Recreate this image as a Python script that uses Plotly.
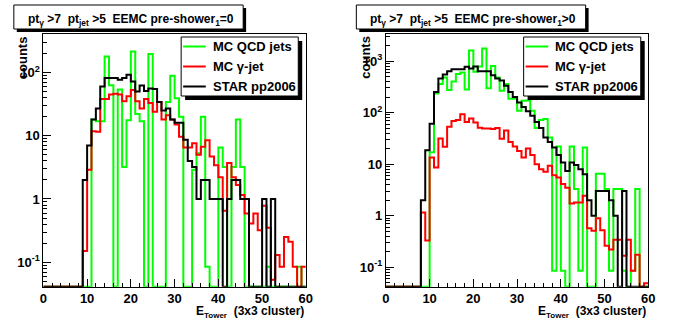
import plotly.graph_objects as go

W, H = 696, 322

# ---------------- data (60 bins of 1 unit from 0 to 60) ----------------
bin_edges = list(range(0, 61))

# Left panel: pre-shower_1 = 0
qcd_l = [0, 0, 0, 0, 0, 0, 0, 0, 0, 0,
         0, 18, 17, 17, 178, 63, 0, 54, 3.2, 17.5,
         215, 22, 17, 0, 196, 0, 0, 0, 34, 89,
         39, 20, 0, 0, 2.9, 5.3, 20, 0.085, 0, 0,
         6.5, 3.2, 0, 3.2, 18, 3.2, 0, 0, 0, 0,
         0, 0.085, 0, 0, 0, 0, 0, 0, 0.085, 0]
gam_l = [0, 0, 0, 0, 0, 0, 0, 0, 0, 0.15,
         2.9, 11.8, 11.5, 38, 38, 45, 46, 45, 35, 42,
         53, 35, 27, 38, 33, 24, 34, 18, 21, 18,
         15, 9.6, 6.5, 6.5, 7.6, 5, 6.7, 8.5, 4.7, 3.4,
         2.2, 0.65, 3.7, 2.2, 1.66, 1.16, 0.59, 0.41, 0.59, 0.32,
         0.78, 0.35, 0.053, 0.13, 0.085, 0.25, 0.21, 0.085, 0, 0.085]
star_l = [0, 0, 0, 0, 0, 0, 0, 0, 0, 2,
          7, 18, 27, 60, 82, 82, 82, 77, 82, 92,
          72, 50, 62, 51, 56, 55, 34, 25, 27, 18,
          16, 16, 8.6, 4, 3.2, 1, 2, 2, 1, 1,
          1, 0, 1, 2, 2, 1, 1, 0, 0, 0,
          1, 0, 1, 0, 0, 0, 0, 0, 0, 0]

# Right panel: pre-shower_1 > 0
qcd_r = [0, 0, 0, 0, 0, 0, 0, 0, 0, 0,
         17, 235, 357, 480, 274, 400, 560, 600, 280, 1600,
         620, 780, 1750, 295, 800, 480, 265, 360, 185, 185,
         108, 170, 172, 108, 50, 72, 75, 33, 0.086, 22,
         0.086, 0, 22, 3.3, 0.086, 21, 0, 0, 6.5, 6.5,
         3.3, 0.086, 3.3, 3.3, 0.086, 0, 0.086, 3.3, 0, 0]
gam_r = [0, 0, 0, 0, 0, 0, 0, 0, 1.16, 0.33,
         13.5, 8.6, 31.4, 21.8, 53, 69, 72, 93, 66, 77,
         64, 51, 49, 49, 48, 50, 31, 45, 27, 22,
         18, 13.5, 20, 15, 10, 8, 7.1, 9.3, 6.1, 5.5,
         4.1, 3.5, 1.73, 1.8, 1.8, 2.44, 0.57, 0.51, 0.89, 0.52,
         0.26, 0.22, 0.34, 0.34, 0.168, 0.34, 0.086, 0.175, 0, 0.049]
star_r = [0, 0, 0, 0, 0, 0, 0, 0, 2, 18.6,
          61, 250, 457, 550, 630, 690, 690, 690, 770, 712,
          780, 630, 630, 630, 530, 460, 420, 330, 250, 200,
          157, 128, 106, 87, 66, 50, 33, 27, 21, 15,
          10.8, 7.4, 10.8, 9.6, 8, 6.4, 2, 1, 3, 3,
          3, 2, 1, 0, 3, 0, 0, 0, 0, 0]

series_names = ["MC QCD jets", "MC \u03b3-jet", "STAR pp2006"]
series_colors = ["#00ff00", "#ff0000", "#000000"]

x_tick_vals = [0, 10, 20, 30, 40, 50, 60]
y_tick_vals_l = [0.1, 1, 10, 100]
y_tick_text_l = ["10<sup>-1</sup>", "1", "10", "10<sup>2</sup>"]
y_tick_vals_r = [0.1, 1, 10, 100, 1000]
y_tick_text_r = ["10<sup>-1</sup>", "1", "10", "10<sup>2</sup>", "10<sup>3</sup>"]

titles = ["pt<sub>\u03b3</sub> >7  pt<sub>jet</sub> >5  EEMC pre-shower<sub>1</sub>=0",
          "pt<sub>\u03b3</sub> >7  pt<sub>jet</sub> >5  EEMC pre-shower<sub>1</sub>>0"]
x_title = "E<sub><span style=\"font-size:8px\">Tower</span></sub>  (3x3 cluster)"
y_title = "counts"

# ---------------- layout geometry (pixels) ----------------
FAM = "Liberation Sans, Arial, sans-serif"
FONT = dict(family=FAM, size=13, color="black", weight=700)
FONT_T = dict(family=FAM, size=12, color="black", weight=700)
FONT_X = dict(family=FAM, size=12, color="black", weight=700)
panels = [
    dict(x0=40, x1=306.7, yr=[-1.387, 2.608], yv=y_tick_vals_l, yt=y_tick_text_l,
         data=[qcd_l, gam_l, star_l], title=titles[0]),
    dict(x0=388, x1=654.7, yr=[-1.377, 3.524], yv=y_tick_vals_r, yt=y_tick_text_r,
         data=[qcd_r, gam_r, star_r], title=titles[1]),
]
PY_TOP, PY_BOT = 34, 286.7


def px(x):
    return x / W


def py(y):
    return 1 - y / H


def b(t):
    return "<b>" + t + "</b>"


fig = go.Figure()
shapes = []
annotations = []
layout_axes = {}

for i, p in enumerate(panels):
    xa = "x" if i == 0 else "x2"
    ya = "y" if i == 0 else "y2"
    floor = 10 ** p["yr"][0]
    for vals, name, col in zip(p["data"], series_names, series_colors):
        yv = [max(v, floor) for v in vals] + [max(vals[-1], floor)]
        fig.add_trace(go.Scatter(x=bin_edges, y=yv, mode="lines", name=name,
                                 line=dict(color=col, width=2, shape="hv"),
                                 xaxis=xa, yaxis=ya, showlegend=False,
                                 hoverinfo="skip"))

    minor_y = []
    for d in range(-3, 5):
        for m in range(2, 10):
            v = m * 10 ** d
            if 10 ** p["yr"][0] < v < 10 ** p["yr"][1]:
                minor_y.append(v)
    minor_x = [v for v in range(0, 61, 2) if v % 10 != 0]

    sfx = "" if i == 0 else "2"
    layout_axes["xaxis" + sfx] = dict(
        domain=[px(p["x0"]), px(p["x1"])], range=[0, 60], anchor=ya,
        showline=True, mirror=True, linecolor="black", linewidth=1,
        ticks="inside", ticklen=8, tickwidth=1, tickcolor="black",
        tickmode="array", tickvals=x_tick_vals, ticktext=[b(str(v)) for v in x_tick_vals],
        tickfont=FONT, showgrid=False, zeroline=False,
        minor=dict(tickmode="array", tickvals=minor_x, ticks="inside", ticklen=4,
                   tickcolor="black", tickwidth=1, showgrid=False))
    layout_axes["yaxis" + sfx] = dict(
        type="log", domain=[py(PY_BOT), py(PY_TOP)], range=p["yr"], anchor=xa,
        showline=True, mirror=True, linecolor="black", linewidth=1,
        ticks="inside", ticklen=8, tickwidth=1, tickcolor="black",
        tickmode="array", tickvals=p["yv"], ticktext=[b(t) for t in p["yt"]],
        tickfont=FONT, showgrid=False, zeroline=False,
        minor=dict(tickmode="array", tickvals=minor_y, ticks="inside", ticklen=4,
                   tickcolor="black", tickwidth=1, showgrid=False))

    off = 0 if i == 0 else 348
    # title box with shadow
    shapes.append(dict(type="rect", xref="paper", yref="paper", layer="below",
                       x0=px(13 + off), x1=px(246 + off), y0=py(32), y1=py(8),
                       fillcolor="black", line=dict(width=0)))
    shapes.append(dict(type="rect", xref="paper", yref="paper", layer="below",
                       x0=px(10 + off), x1=px(243 + off), y0=py(29), y1=py(5),
                       fillcolor="white", line=dict(color="black", width=1)))
    annotations.append(dict(text=b(p["title"]), xref="paper", yref="paper",
                            x=px(22 + off), y=py(19.5), xanchor="left", yanchor="middle",
                            showarrow=False, font=FONT_T))
    # legend box with shadow
    lx0, ly0, lx1, ly1 = 180 + off, 37, 299 + off, 96
    shapes.append(dict(type="rect", xref="paper", yref="paper", layer="above",
                       x0=px(lx0 + 4), x1=px(lx1 + 4), y0=py(ly1 + 4), y1=py(ly0 + 4),
                       fillcolor="black", line=dict(width=0)))
    shapes.append(dict(type="rect", xref="paper", yref="paper", layer="above",
                       x0=px(lx0), x1=px(lx1), y0=py(ly1), y1=py(ly0),
                       fillcolor="white", line=dict(color="black", width=1)))
    for k, (name, col) in enumerate(zip(series_names, series_colors)):
        yy = 46.5 + 20 * k
        shapes.append(dict(type="line", xref="paper", yref="paper", layer="above",
                           x0=px(lx0 + 2), x1=px(lx0 + 25), y0=py(yy), y1=py(yy),
                           line=dict(color=col, width=2)))
        annotations.append(dict(text=b(name), xref="paper", yref="paper",
                                x=px(lx0 + 30), y=py(yy), xanchor="left", yanchor="middle",
                                showarrow=False, font=FONT))
    # axis titles
    annotations.append(dict(text=b(x_title), xref="paper", yref="paper",
                            x=px(p["x1"]), y=py(322), xanchor="right", yanchor="bottom",
                            showarrow=False, font=FONT_X))
    annotations.append(dict(text=b(y_title), xref="paper", yref="paper", textangle=-90,
                            x=px(19 + off), y=py(34), xanchor="center", yanchor="top",
                            showarrow=False, font=FONT))

fig.update_layout(width=W, height=H, margin=dict(l=0, r=0, t=0, b=0),
                  paper_bgcolor="white", plot_bgcolor="white",
                  shapes=shapes, annotations=annotations, showlegend=False,
                  **layout_axes)

fig.write_html("out.html")
